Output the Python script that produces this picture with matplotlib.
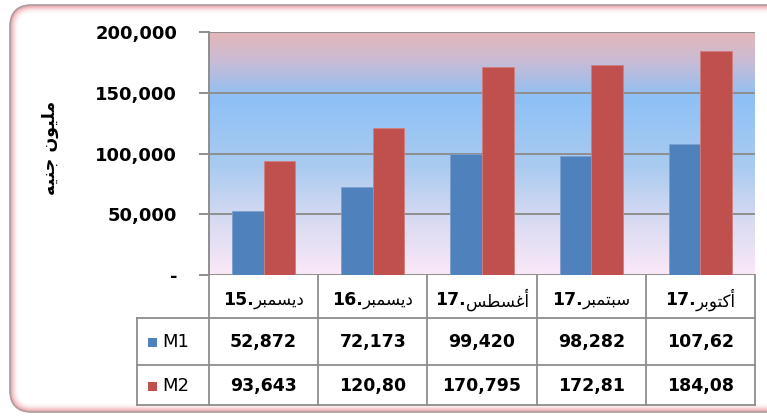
import numpy as np
import matplotlib.pyplot as plt
from matplotlib.patches import FancyBboxPatch, Rectangle
from matplotlib.colors import LinearSegmentedColormap
from matplotlib.transforms import blended_transform_factory

# Arabic words written in presentation forms, visual order (matplotlib has no shaping)
dec = "\uFEAE\uFE92\uFEE4\uFEB4\uFEF3\uFEA9"   # ديسمبر
aug = "\uFEB2\uFEC4\uFEB4\uFECF\uFE83"         # أغسطس
sep = "\uFEAE\uFE92\uFEE4\uFE98\uFE92\uFEB3"   # سبتمبر
octo = "\uFEAE\uFE91\uFEEE\uFE98\uFEDB\uFE83"  # أكتوبر
y_title = "\uFEEA\uFEF4\uFEE8\uFE9F \uFEE5\uFEEE\uFEF4\uFEE0\uFEE3"  # مليون جنيه

cat_year = ["15.", "16.", "17.", "17.", "17."]
cat_month = [dec, dec, aug, sep, octo]
series_names = ["M1", "M2"]
m1 = [52872, 72173, 99420, 98282, 107620]
m2 = [93643, 120800, 170795, 172810, 184080]
m1_text = ["52,872", "72,173", "99,420", "98,282", "107,62"]
m2_text = ["93,643", "120,80", "170,795", "172,81", "184,08"]
y_ticks = [0, 50000, 100000, 150000, 200000]
y_tick_labels = ["-", "50,000", "100,000", "150,000", "200,000"]

c_m1 = "#4F81BD"
c_m2 = "#C0504D"
grid_c = "#8e8e8e"

W, H = 767, 416
fig = plt.figure(figsize=(W / 100, H / 100), dpi=100)
fig.patch.set_facecolor("white")

# rounded frame with reddish inner glow, drawn in pixel units
bg = fig.add_axes([0, 0, 1, 1], zorder=-5)
bg.set_xlim(0, W)
bg.set_ylim(H, 0)
bg.axis("off")
for k in range(9):
    bg.add_patch(FancyBboxPatch((10 + k, 5 + k), 790 - 2 * k, 407 - 2 * k,
                                boxstyle="round,pad=0,rounding_size=%d" % (22 - k),
                                fill=False, linewidth=1.3,
                                edgecolor=(0.88, 0.38, 0.42, 0.45 * (1 - k / 9) ** 2)))
bg.add_patch(FancyBboxPatch((10, 5), 790, 407, boxstyle="round,pad=0,rounding_size=22",
                            fill=False, edgecolor="#a0a0a0", linewidth=1.0))

ax_l, ax_r, ax_t, ax_b = 209, 755, 32, 275
ax = fig.add_axes([ax_l / W, 1 - ax_b / H, (ax_r - ax_l) / W, (ax_b - ax_t) / H])
ax.set_xlim(-0.5, 4.5)
ax.set_ylim(0, 200000)

# plot area gradient
grad = LinearSegmentedColormap.from_list("bg", [
    (0.0, "#e6b6b8"), (0.12, "#c8bcd6"), (0.27, "#8ec0f6"),
    (0.55, "#a9cbf0"), (0.8, "#dcdcf2"), (1.0, "#fbe8f8")])
ax.imshow(np.linspace(0, 1, 256).reshape(-1, 1), cmap=grad, aspect="auto",
          extent=(-0.5, 4.5, 0, 200000), zorder=0, origin="upper")

for t in y_ticks:
    ax.axhline(t, color=grid_c, lw=1.4, zorder=1)

x = np.arange(len(cat_year))
bw = 0.29
ax.bar(x - bw / 2, m1, bw, color=c_m1, edgecolor="#7d9fcc", linewidth=0.6, zorder=2)
ax.bar(x + bw / 2, m2, bw, color=c_m2, edgecolor="#d07e7c", linewidth=0.6, zorder=2)

for s in ["top", "right", "bottom"]:
    ax.spines[s].set_visible(False)
ax.spines["left"].set_color(grid_c)
ax.spines["left"].set_linewidth(1.4)
ax.set_xticks([])
ax.set_yticks(y_ticks)
ax.set_yticklabels(y_tick_labels, fontsize=13, fontweight="bold", family="DejaVu Sans")
ax.tick_params(axis="y", length=7, width=1.4, color=grid_c, pad=16)

fig.text(50 / W, 1 - 148 / H, y_title, rotation=90, ha="center", va="center",
         fontsize=12.5, fontweight="bold", family="DejaVu Sans")

# data table under the axes
tr = blended_transform_factory(ax.transData, ax.transAxes)
def fy(ypx):
    return (ax_b - ypx) / (ax_b - ax_t)

px_per_cat = (ax_r - ax_l) / 5
x_leg = -0.5 - (ax_l - 137) / px_per_cat
rows = [ax_b, 318, 365, 405]
line_kw = dict(color=grid_c, lw=1.3, transform=tr, clip_on=False)

ax.plot([-0.5, -0.5], [fy(ax_b), fy(405)], **line_kw)
for b in np.arange(0.5, 5.0, 1.0):
    ax.plot([b, b], [fy(ax_b), fy(405)], **line_kw)
for r in rows[1:]:
    ax.plot([x_leg, 4.5], [fy(r), fy(r)], **line_kw)
ax.plot([x_leg, x_leg], [fy(318), fy(405)], **line_kw)

# header cells: bold year + regular month name, centred as a pair
renderer = fig.canvas.get_renderer()
for i in range(len(cat_year)):
    t1 = ax.text(i, fy(300), cat_year[i], transform=tr, ha="left", va="center",
                 fontsize=12.5, fontweight="bold", family="DejaVu Sans")
    t2 = ax.text(i, fy(300), cat_month[i], transform=tr, ha="left", va="center",
                 fontsize=12, family="DejaVu Sans")
    w1 = t1.get_window_extent(renderer).width / px_per_cat
    w2 = t2.get_window_extent(renderer).width / px_per_cat
    start = i - (w1 + w2) / 2
    t1.set_x(start)
    t2.set_x(start + w1)

for i in range(len(cat_year)):
    ax.text(i, fy(342), m1_text[i], transform=tr, ha="center", va="center",
            fontsize=12.5, fontweight="bold", family="DejaVu Sans")
    ax.text(i, fy(386), m2_text[i], transform=tr, ha="center", va="center",
            fontsize=12.5, fontweight="bold", family="DejaVu Sans")

for name, col, ypx in zip(series_names, [c_m1, c_m2], [342, 386]):
    sq = 9 / px_per_cat
    ax.add_patch(Rectangle((x_leg + 11 / px_per_cat, fy(ypx + 4.5)), sq, 9 / (ax_b - ax_t),
                           facecolor=col, edgecolor="none", transform=tr, clip_on=False))
    ax.text(x_leg + 25 / px_per_cat, fy(ypx), name, transform=tr, ha="left", va="center",
            fontsize=13, family="DejaVu Sans")

fig.savefig("out.png", dpi=100)
